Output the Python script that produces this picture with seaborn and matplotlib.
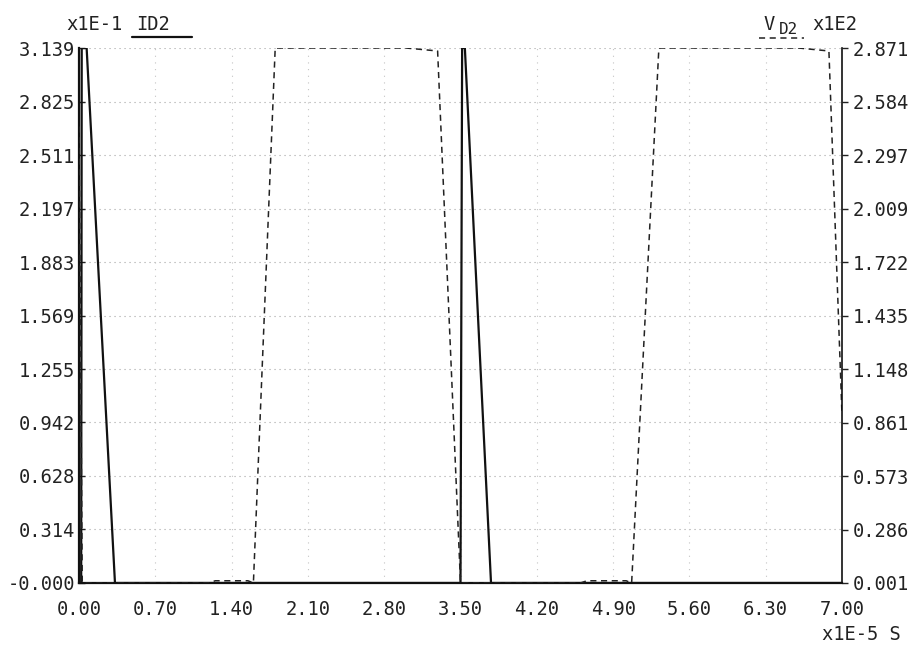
import matplotlib
matplotlib.use("Agg")
import matplotlib.pyplot as plt
import numpy as np
import pandas as pd
import seaborn as sns

# ---- data ----
time_id2 = [0.00, 0.02, 0.025, 0.07, 0.33, 3.50, 3.515, 3.54, 3.78, 7.00]
id2 = [0.0, 0.0, 3.139, 3.139, 0.0, 0.0, 3.139, 3.139, 0.0, 0.0]

time_vd2 = [0.00, 0.03, 1.19, 1.25, 1.55, 1.60, 1.80, 3.00, 3.29, 3.50,
            4.60, 4.66, 5.02, 5.07, 5.32, 6.60, 6.88, 7.00]
vd2 = [2.45, 0.001, 0.001, 0.013, 0.013, 0.001, 2.871, 2.871, 2.855, 0.001,
       0.001, 0.013, 0.013, 0.001, 2.871, 2.871, 2.855, 0.90]

x_ticks = [0.0, 0.7, 1.4, 2.1, 2.8, 3.5, 4.2, 4.9, 5.6, 6.3, 7.0]
x_tick_labels = ["0.00", "0.70", "1.40", "2.10", "2.80", "3.50",
                 "4.20", "4.90", "5.60", "6.30", "7.00"]
left_ticks = [0.0, 0.314, 0.628, 0.942, 1.255, 1.569, 1.883, 2.197, 2.511, 2.825, 3.139]
left_tick_labels = ["-0.000", "0.314", "0.628", "0.942", "1.255", "1.569",
                    "1.883", "2.197", "2.511", "2.825", "3.139"]
right_ticks = [0.001, 0.286, 0.573, 0.861, 1.148, 1.435, 1.722, 2.009, 2.297, 2.584, 2.871]
right_tick_labels = ["0.001", "0.286", "0.573", "0.861", "1.148", "1.435",
                     "1.722", "2.009", "2.297", "2.584", "2.871"]

sns.set_theme(style="white")
plt.rcParams["font.family"] = ["DejaVu Sans Mono", "DejaVu Sans"]

W, H = 921, 650
fig = plt.figure(figsize=(W / 100, H / 100), dpi=100)
L, R, T, B = 79, 842, 48, 583
ax = fig.add_axes([L / W, 1 - B / H, (R - L) / W, (B - T) / H])
ax2 = ax.twinx()

df_i = pd.DataFrame({"t": time_id2, "v": id2})
df_v = pd.DataFrame({"t": time_vd2, "v": vd2})

# grid
grid_kw = dict(color="#a5a5a5", lw=0.8, linestyle=(0, (1, 3.5)), zorder=0)
for y in left_ticks[1:]:
    ax.axhline(y, **grid_kw)
for x in x_ticks[1:-1]:
    ax.axvline(x, color="#c4c4c4", lw=0.8, linestyle=(0, (1, 5)), zorder=0)

sns.lineplot(data=df_i, x="t", y="v", ax=ax, color="#111111", lw=1.6,
             estimator=None, sort=False)
sns.lineplot(data=df_v, x="t", y="v", ax=ax2, color="#222222", lw=1.1,
             estimator=None, sort=False, linestyle=(0, (4, 3)))

ax.set_xlim(0, 7.0)
ax.set_ylim(0, 3.139)
ax2.set_ylim(0.001, 2.871)

ax.set_xticks(x_ticks)
ax.set_xticklabels(x_tick_labels)
ax.set_yticks(left_ticks)
ax.set_yticklabels(left_tick_labels)
ax2.set_yticks(right_ticks)
ax2.set_yticklabels(right_tick_labels)

for a in (ax, ax2):
    a.set_xlabel("")
    a.set_ylabel("")
    a.spines["top"].set_visible(False)
    for s in ("left", "right", "bottom"):
        a.spines[s].set_color("#111111")
ax.spines["left"].set_linewidth(1.6)
ax.spines["bottom"].set_linewidth(1.6)
ax2.spines["right"].set_linewidth(1.2)
ax.spines["right"].set_visible(False)
ax2.spines["left"].set_visible(False)
ax2.spines["bottom"].set_visible(False)

fs = 13.5
ax.tick_params(axis="x", length=0, pad=12, labelsize=fs, colors="#222222")
ax.tick_params(axis="y", direction="in", length=4, width=1, pad=3,
               labelsize=fs, colors="#222222")
ax2.tick_params(axis="y", direction="out", length=4, width=1, pad=4,
                labelsize=fs, colors="#222222")

def fx(px):
    return px / W

def fy(py):
    return 1 - py / H

tc = "#222222"
fig.text(fx(66), fy(24), "x1E-1", fontsize=fs, color=tc, va="center", ha="left")
fig.text(fx(136), fy(24), "ID2", fontsize=fs, color=tc, va="center", ha="left")
fig.add_artist(plt.Line2D([fx(132), fx(192)], [fy(37), fy(37)], color="#111111", lw=1.6))

fig.text(fx(763), fy(24), "V", fontsize=fs, color=tc, va="center", ha="left")
fig.text(fx(779), fy(29), "D2", fontsize=fs - 2, color=tc, va="center", ha="left")
fig.text(fx(812), fy(24), "x1E2", fontsize=fs, color=tc, va="center", ha="left")
fig.add_artist(plt.Line2D([fx(759), fx(804)], [fy(38), fy(38)], color="#222222",
                          lw=1.1, linestyle=(0, (4, 3))))

fig.text(fx(822), fy(635), "x1E-5 S", fontsize=fs, color=tc, va="center", ha="left")

fig.savefig("out.png", dpi=100, facecolor="white")
